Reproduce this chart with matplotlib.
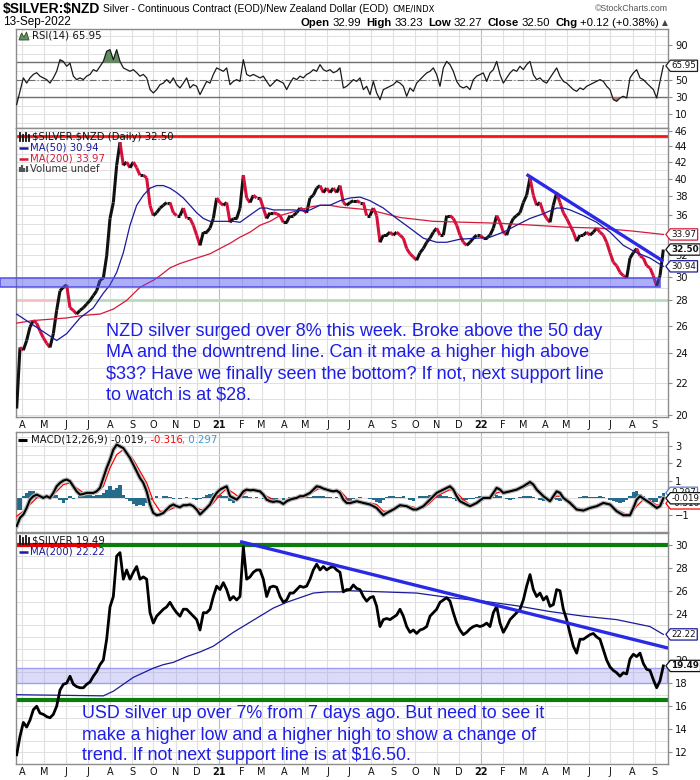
import numpy as np
import pandas as pd
import matplotlib
matplotlib.use('Agg')
import matplotlib.pyplot as plt
import matplotlib.dates as mdates
from matplotlib.collections import LineCollection
from matplotlib.path import Path
from matplotlib.patches import Rectangle, Polygon
from matplotlib.lines import Line2D
from matplotlib.ticker import NullLocator, FixedLocator
from matplotlib.transforms import blended_transform_factory as btf
from matplotlib import patheffects

# ---------------- DATA ----------------
START, END = '2020-03-24', '2022-09-13'   # first / last bar
K0 = 5                                     # index of first bar on the grid

nzd_close = [
    20.4, 24.4, 24.2, 24.9, 25.9, 26.4, 26.2, 25.6, 25.1, 24.7,
    24.4, 25.4, 27.2, 28.8, 29.1, 29.3, 27.4, 27.2, 26.9, 27.2,
    27.4, 27.7, 28.0, 28.4, 28.8, 29.7, 29.9, 31.9, 35.6, 37.3,
    41.6, 44.5, 41.6, 42.0, 41.3, 42.0, 41.3, 40.4, 40.4, 40.1,
    37.0, 35.9, 36.2, 36.7, 37.0, 37.3, 37.3, 36.2, 35.9, 35.9,
    36.7, 35.6, 35.6, 34.9, 33.9, 32.9, 34.2, 34.2, 34.6, 35.6,
    37.8, 37.3, 37.0, 37.3, 35.2, 35.6, 35.6, 36.7, 40.4, 37.8,
    37.3, 38.1, 37.8, 37.8, 36.7, 35.6, 36.2, 36.2, 36.1, 35.9,
    35.2, 35.2, 35.9, 35.9, 36.2, 36.7, 36.5, 36.2, 37.8, 38.1,
    38.9, 39.2, 38.4, 38.9, 38.4, 38.9, 38.4, 39.2, 37.3, 37.0,
    37.3, 37.5, 37.5, 37.3, 37.3, 35.9, 35.9, 36.7, 35.9, 33.2,
    33.9, 33.9, 34.2, 33.9, 34.2, 33.9, 33.6, 32.6, 32.1, 31.8,
    31.5, 32.2, 32.6, 33.2, 33.6, 34.2, 34.6, 33.9, 33.9, 35.9,
    35.9, 35.6, 34.9, 33.9, 33.2, 32.9, 33.2, 33.6, 33.9, 33.9,
    33.6, 33.6, 33.9, 34.6, 35.9, 35.2, 34.2, 33.9, 34.9, 35.6,
    35.9, 36.2, 37.3, 38.1, 40.1, 38.1, 37.0, 37.3, 36.2, 35.6,
    35.2, 37.0, 38.4, 37.3, 36.2, 35.6, 34.9, 34.2, 33.3, 33.9,
    33.9, 34.2, 33.9, 34.2, 34.6, 34.2, 33.9, 33.2, 32.2, 31.3,
    31.0, 30.4, 30.1, 29.9, 31.7, 32.2, 32.6, 31.9, 31.7, 31.0,
    30.8, 30.1, 29.2, 30.1, 32.5]

usd_close = [
    11.8, 13.4, 14.6, 14.2, 14.8, 15.7, 16.0, 15.4, 15.3, 15.1,
    15.0, 15.3, 16.0, 17.4, 17.9, 18.0, 18.6, 17.9, 17.7, 17.6,
    17.6, 17.9, 18.1, 18.6, 19.0, 19.6, 20.0, 21.8, 24.6, 25.5,
    29.0, 29.3, 27.0, 27.8, 27.0, 27.6, 28.1, 27.0, 27.2, 27.0,
    24.1, 23.2, 23.8, 24.1, 24.4, 24.6, 25.0, 24.5, 24.1, 23.8,
    24.4, 24.4, 24.1, 23.8, 23.5, 22.6, 24.1, 24.1, 24.4, 25.5,
    26.4, 26.1, 26.7, 26.1, 25.2, 25.5, 25.2, 25.5, 29.8, 27.0,
    27.2, 27.6, 27.8, 27.8, 27.0, 25.5, 26.3, 26.4, 26.3, 25.5,
    25.0, 25.2, 25.8, 25.8, 26.1, 26.4, 26.3, 26.4, 27.0, 27.8,
    28.3, 27.8, 28.1, 27.8, 28.0, 28.1, 27.8, 27.6, 25.9, 26.1,
    26.1, 26.5, 26.2, 26.1, 25.5, 25.1, 25.4, 25.5, 24.65, 22.9,
    23.5, 23.6, 23.5, 23.7, 23.9, 24.4, 23.8, 22.9, 22.4, 22.6,
    22.3, 22.6, 22.7, 22.9, 23.8, 24.1, 24.4, 25.0, 25.2, 25.4,
    25.1, 24.1, 23.2, 22.6, 22.2, 22.4, 22.7, 22.9, 23.0, 22.9,
    23.0, 23.2, 22.9, 24.1, 24.65, 23.2, 22.4, 22.9, 23.5, 23.8,
    24.1, 24.4, 25.2, 26.4, 27.4, 26.1, 25.5, 25.8, 25.2, 25.5,
    24.65, 24.8, 26.1, 26.0, 24.4, 23.5, 22.3, 21.2, 20.6, 21.8,
    21.8, 22.0, 22.2, 22.3, 22.0, 21.8, 20.9, 20.0, 19.4, 19.1,
    18.9, 18.6, 18.9, 18.8, 20.1, 20.5, 20.3, 20.6, 19.7, 19.2,
    19.1, 18.3, 17.6, 18.2, 19.49]

ma50_k = [5, 17, 20, 24, 28, 31, 33, 35, 37, 39, 41, 43, 45, 47, 49, 51, 53, 55, 57, 59,
          61, 63, 66, 70, 72, 74, 76, 78, 80, 82, 85, 88, 91, 93, 96, 99, 102, 105, 108, 111,
          115, 119, 123, 127, 131, 134, 138, 143, 147, 151, 155, 159, 163, 167, 169, 171, 175, 179, 183, 187,
          191, 195, 199]
ma50_v = [26.9, 24.9, 25.4, 26.6, 27.4, 28.6, 29.3, 30.4, 32.2, 34.9, 37.0, 38.1, 38.9, 39.2, 39.2, 38.9, 38.4, 37.8, 37.0, 36.2,
          35.6, 35.3, 35.3, 35.3, 35.2, 35.7, 36.2, 36.7, 36.7, 36.5, 36.5, 36.5, 36.4, 36.5, 37.0, 37.0, 37.5, 37.8, 37.9, 37.5,
          36.7, 35.6, 34.6, 33.6, 33.2, 33.2, 33.5, 33.6, 33.7, 34.2, 34.9, 35.6, 36.1, 36.7, 36.7, 36.5, 35.9, 35.2, 34.2, 32.9,
          32.2, 31.7, 30.94]

ma200_k = [5, 10, 15, 20, 25, 30, 34, 38, 42, 46, 48, 51, 54, 57, 60, 63, 66, 69, 72, 75,
           78, 81, 84, 87, 90, 93, 96, 99, 102, 105, 111, 120, 130, 140, 150, 160, 170, 180, 190, 199]
ma200_v = [26.2, 26.4, 26.5, 26.6, 26.8, 26.9, 27.3, 28.0, 29.1, 29.7, 30.1, 30.8, 31.2, 31.5, 31.8, 32.1, 32.6, 33.1, 33.7, 34.2,
           34.9, 35.3, 35.9, 36.2, 36.5, 36.8, 37.0, 37.0, 36.8, 36.7, 36.5, 35.7, 35.3, 35.2, 35.1, 34.9, 34.7, 34.6, 34.3, 33.97]

usd_ma200_k = [5, 31, 34, 37, 40, 43, 46, 49, 52, 56, 60, 64, 66, 70, 74, 78, 82, 86, 90, 94,
               98, 102, 105, 115, 125, 135, 145, 155, 165, 175, 185, 195, 199]
usd_ma200_v = [17.0, 16.9, 17.3, 17.9, 18.5, 18.9, 19.3, 19.6, 19.8, 20.3, 20.7, 21.2, 21.6, 22.4, 23.1, 23.8, 24.5, 25.0, 25.4, 25.8,
               25.9, 25.9, 26.0, 25.9, 25.8, 25.4, 25.1, 24.7, 24.2, 23.8, 23.5, 22.9, 22.22]

rsi = [
    21.2, 36.5, 52, 46, 52, 56, 58, 54, 52, 50,
    46, 52, 59.6, 73, 71, 65.4, 69, 54, 50, 52,
    50, 54, 56, 61.5, 59.6, 65.4, 71, 82.7, 84.6, 73,
    84.6, 71, 63.5, 61.5, 59.6, 61.5, 58, 54, 56, 52,
    38.5, 34.6, 38.5, 44.2, 46, 50, 46, 52, 44.2, 40.4,
    46, 52, 40.4, 44.2, 42.3, 32.7, 40.4, 48, 46, 56,
    63.5, 61.5, 59.6, 63.5, 44.2, 48, 50, 48, 73, 56,
    54, 56, 54, 52, 54, 48, 42.3, 46, 50, 48,
    46, 38.5, 46, 52, 50, 54, 52, 56, 58, 61.5,
    59.6, 67.3, 61.5, 59.6, 61.5, 58, 59.6, 63.5, 40.4, 42.3,
    46,
    50, 48, 52, 38.5, 42.3, 32.7, 48, 34.6, 26.9, 38.5,
    40.4, 42.3, 44.2, 48, 46, 42.3, 30.8, 40.4, 36.5, 46,
    50, 54, 57.7, 59.6, 63.5, 55.8, 42.3, 63.5, 71, 67.3,
    59.6, 48, 42.3, 40.4, 42.3, 38.5, 50, 54, 55.8, 57.7,
    48, 57.7, 61.5, 71, 55.8, 46, 52, 57.7, 61.5, 59.6,
    65.4, 61.5, 67.3, 71, 55.8, 50, 52, 48, 46, 52,
    57.7, 63.5, 54, 48, 46, 42.3, 38.5, 36.5, 40.4, 38.5,
    42.3, 44.2, 46, 48, 50, 48, 42.3, 38.5, 26.9, 25,
    28.8, 30.8, 28.8, 52, 57.7, 61.5, 52, 50, 46, 42.3,
    38.5, 28.8, 48, 65.95]

macd_left = [
    -1.63, -1.15, -0.96, -0.58, -0.1, 0.1, 0.19, 0.1, 0, 0.1,
    0, 0.29, 0.67, 0.87, 1.0, 1.06, 0.96, 0.67, 0.38, 0.19,
    0.23, 0.29, 0.29, 0.29, 0.38, 0.58, 1.15, 1.73, 2.21, 2.79,
    3.08, 2.98, 2.88, 2.6, 2.31, 1.92, 1.54, 1.15, 0.87, 0.38,
    -0.38, -0.87, -1.0, -0.96, -0.87, -0.67, -0.48, -0.38, -0.48, -0.54,
    -0.42, -0.42, -0.38, -0.48, -0.67, -0.96, -0.77, -0.58, -0.38, 0,
    0.29, 0.48, 0.58, 0.67, 0.1, 0, -0.1, 0.1, 0.38, 0.48,
    0.44, 0.46, 0.42, 0.38, 0.19, -0.1, -0.19, -0.23, -0.19, -0.23,
    -0.35, -0.19, -0.1, -0.04, 0, 0.1, 0.1, 0.19, 0.29, 0.48,
    0.67, 0.63, 0.54, 0.48, 0.42, 0.38, 0.42, 0.29, -0.1, -0.29,
    -0.3]
macd_right_k = [107, 109, 111, 113, 115, 116, 118, 120, 122, 124, 125, 127, 129, 131, 133, 135, 136, 137, 138, 139,
                141, 143, 145, 147, 149, 150, 151, 153, 155, 157, 159, 160, 161, 163, 165, 167, 168, 169, 171, 173,
                175, 177, 179, 181, 183, 185, 187, 189, 190, 191, 192, 193, 195, 197, 198, 199]
macd_right_v = [-0.19, -0.29, -0.38, -0.58, -1.0, -0.87, -0.67, -0.42, -0.48, -0.67, -0.67, -0.48, -0.1, 0.29, 0.48, 0.67, 0.48, 0.1, -0.19, -0.29,
                -0.48, -0.29, 0, 0, 0.58, 0.48, 0.29, 0.38, 0.48, 0.67, 0.92, 0.77, 0.48, 0.1, -0.19, 0.38, 0.29, 0, -0.29, -0.67,
                -0.73, -0.58, -0.48, -0.29, -0.38, -0.77, -1.0, -1.0, -0.58, -0.1, 0.1, -0.04, -0.29, -0.58, -0.48, -0.019]

signal_k = [5, 7, 9, 11, 13, 15, 17, 19, 21, 23, 25, 27, 29, 31, 33, 35, 37, 38, 40, 42,
            44, 46, 48, 50, 52, 54, 56, 58, 60, 62, 64, 66, 68, 70, 72, 74, 76, 78, 80, 82,
            84, 86, 88, 90, 92, 94, 96, 98, 100, 102, 104, 105, 107, 109, 111, 113, 115, 117, 119, 121,
            123, 125, 127, 129, 131, 133, 135, 137, 139, 141, 143, 145, 147, 149, 151, 153, 155, 157, 159, 161,
            163, 165, 167, 169, 171, 173, 175, 177, 179, 181, 183, 185, 187, 189, 191, 193, 195, 197, 199]
signal_v = [-1.06, -0.77, -0.38, 0, 0.1, 0, 0.38, 0.77, 0.87, 0.58, 0.29, 0.19, 0.29, 0.67, 1.73, 2.5, 2.79, 2.69, 2.21, 1.54,
            0.87, -0.19, -0.77, -0.77, -0.58, -0.48, -0.48, -0.48, -0.67, -0.67, -0.29, 0.19, 0.54, 0.29, 0, 0.38, 0.42, 0.42, 0.1, -0.1,
            -0.19, -0.23, -0.1, 0, 0.1, 0.35, 0.58, 0.54, 0.44, 0.42, 0, -0.19, -0.23, -0.23, -0.29, -0.38, -0.77, -0.77, -0.58, -0.48,
            -0.48, -0.58, -0.58, -0.29, 0.1, 0.29, 0.48, 0.29, -0.1, -0.38, -0.35, -0.1, -0.04, 0.29, 0.38, 0.35, 0.42, 0.58, 0.77, 0.58,
            0.19, -0.1, 0.1, 0.1, -0.19, -0.58, -0.67, -0.62, -0.48, -0.38, -0.38, -0.67, -0.87, -1.0, -0.48, -0.1, -0.15, -0.42, -0.316]

macd_hist = [
    -0.67, -0.67,
    0.1, 0.29, 0.38, 0.38, 0.29, 0.19, 0.1, 0, 0.1, 0.19,
    0.19, -0.1, -0.29, -0.1, 0.1, -0.04, 0, 0.1, 0.13, 0.19,
    0.19, 0.1, 0.19, 0.19, 0.29, 0.48, 0.67, 0.48, 0.58, 0.73,
    0.19, -0.04, -0.19, -0.38, -0.48, -0.42, -0.48, -0.29, -0.1, 0,
    0.1, 0, 0.1, 0.1, 0.06, -0.04, 0, -0.04, 0, 0.04,
    0, -0.04, -0.1, -0.04, 0.04, 0.19, 0.23, 0.29, 0.29, 0.19,
    0.1, 0.1, -0.19, -0.29, -0.1, 0, 0.1, 0.1, 0.04, 0,
    0.04, 0, -0.04, -0.19, -0.23, -0.1, -0.04, 0, -0.1, 0,
    0.04, 0.04, 0.04, 0.04, 0.1, 0.1, 0.04, 0.1, 0.13, 0.1,
    0.1, 0.04, 0.04, 0, 0.04, 0, -0.19, -0.29, -0.29,
    -0.04, 0, 0.04, 0, 0, -0.04, -0.1, -0.23, -0.29, -0.1,
    0.04, 0.1, 0.1, 0.04, 0.04, 0.1, 0, -0.1, -0.15, 0,
    0.1, 0.1, 0.13, 0.19, 0.23, 0.19, 0.19, 0.13, 0.1, 0.04,
    -0.04, -0.15, -0.19, -0.19, -0.1, -0.04, -0.04, 0.04, 0.1, 0.06,
    0, 0.04, 0.06, 0.19, 0.1, 0, -0.04, -0.1, -0.04, 0,
    0.04, 0.1, 0.1, 0.1, 0.04, 0, -0.1, -0.15, -0.1, -0.04,
    -0.04, -0.1, -0.15, -0.1, -0.04, 0, 0, 0, 0.04, 0.1,
    0.1, 0.04, 0.04, 0.08, 0.1, 0.06, 0, -0.1, -0.15, -0.23,
    -0.29, -0.23, -0.1, 0.1, 0.35, 0.38, 0.23, 0.1, 0, -0.1,
    -0.23, -0.23, 0.1, 0.297]

nzd_trend_dates = ['2022-03-06', '2022-09-13']
nzd_trend_vals = [40.5, 31.4]
usd_trend_dates = ['2021-01-30', '2022-09-22']
usd_trend_vals = [30.26, 21.0]
nzd_resistance = 45.3
nzd_band = (29.1, 29.9)
nzd_support = 28.0
usd_resistance = 30.0
usd_band = (18.0, 19.3)
usd_support = 16.5

month_letters = ['J', 'F', 'M', 'A', 'M', 'J', 'J', 'A', 'S', 'O', 'N', 'D']

# right-axis labels (those fully hidden behind value tags in the reference are left out)
rsi_ticks = [10, 30, 50, 90]
nzd_ticks = [20, 22, 24, 26, 28, 30, 32, 36, 38, 40, 42, 44, 46]
macd_ticks = [-1, 1, 2, 3]
usd_ticks = [12, 14, 16, 18, 20, 24, 26, 28, 30]

nzd_note = ["NZD silver surged over 8% this week. Broke above the 50 day",
            "MA and the downtrend line. Can it make a higher high above",
            "$33? Have we finally seen the bottom? If not, next support line",
            "to watch is at $28."]
usd_note = ["USD silver up over 7% from 7 days ago. But need to see it",
            "make a higher low and a higher high to show a change of",
            "trend. If not next support line is at $16.50."]

# ---------------- FIGURE ----------------
N = len(nzd_close)
assert len(usd_close) == N and len(rsi) == N and len(macd_hist) == N and len(macd_left) == 101
assert len(ma50_k) == len(ma50_v) and len(ma200_k) == len(ma200_v)
assert len(usd_ma200_k) == len(usd_ma200_v) and len(signal_k) == len(signal_v)
assert len(macd_right_k) == len(macd_right_v)

SANS = 'DejaVu Sans'
ARIAL = 'Liberation Sans'

W, H = 700, 780
fig = plt.figure(figsize=(W / 100, H / 100), dpi=100)
fig.patch.set_facecolor('white')
L, R = 16, 668


def add_ax(top, bottom):
    return fig.add_axes([L / W, 1 - bottom / H, (R - L) / W, (bottom - top) / H])


ax_r = add_ax(29, 128)
ax_p = add_ax(128, 417)
ax_m = add_ax(432, 532)
ax_s = add_ax(533, 764)

dates = pd.date_range(START, END, periods=N)
xn = mdates.date2num(dates)
step = xn[1] - xn[0]


def kx(ks):
    return np.array([xn[k - K0] for k in ks])


months = pd.date_range('2020-04-01', '2022-09-01', freq='MS')
mx = mdates.date2num(months)
mlabels = [(str(m.year)[2:] if m.month == 1 else month_letters[m.month - 1]) for m in months]

GRID = '#e0e0e0'
for ax in (ax_r, ax_p, ax_m, ax_s):
    ax.set_xlim(xn[0] - 0.2 * step, xn[-1] + 1.4 * step)
    ax.set_facecolor('white')
    for m, v in zip(months, mx):
        ax.axvline(v, color='#bcbcbc' if m.month == 1 else GRID, lw=0.8, zorder=0)
    for sp in ax.spines.values():
        sp.set_color('#8c8c8c')
        sp.set_linewidth(1.0)
    ax.yaxis.tick_right()
    ax.tick_params(axis='y', length=3, width=0.8, color='#8c8c8c', pad=2, labelsize=7.2,
                   labelcolor='#111111')
    ax.set_xticks(mx)
    ax.tick_params(axis='x', length=0, pad=2.5, labelsize=7, labelcolor='#111111')
    ax.yaxis.set_minor_locator(NullLocator())

for ax in (ax_r, ax_m):
    ax.tick_params(axis='x', labelbottom=False)
for ax in (ax_p, ax_s):
    ax.set_xticklabels(mlabels, family=SANS)
    for t in ax.get_xticklabels():
        if t.get_text() in ('21', '22'):
            t.set_fontweight('bold')


def tag_box(x0, y0, width, height, mutation_size):
    pad = 0.13 * mutation_size
    x0 -= pad; y0 -= pad; width += 2 * pad; height += 2 * pad
    tip = height * 0.4
    verts = [(x0, y0), (x0 + width, y0), (x0 + width, y0 + height), (x0, y0 + height),
             (x0 - tip, y0 + height / 2), (x0, y0), (x0, y0)]
    codes = [Path.MOVETO] + [Path.LINETO] * 5 + [Path.CLOSEPOLY]
    return Path(verts, codes)


def tag(ax, val, txt, ec, bold=False, z=10):
    ax.annotate(txt, xy=(1, val), xycoords=('axes fraction', 'data'),
                xytext=(3.5 * 0.72, 0), textcoords='offset points', ha='left', va='center',
                fontsize=6.3, family=SANS, fontweight='bold' if bold else 'normal', color='#111111',
                bbox=dict(boxstyle=tag_box, fc='white', ec=ec, lw=0.9), zorder=z,
                annotation_clip=False)


def fx(x):
    return x / W


def fy(y):
    return 1 - y / H


def ftext(x, y, s, **kw):
    kw.setdefault('va', 'center')
    return fig.text(fx(x), fy(y), s, parse_math=False, **kw)


def fline(x1, x2, y, color, lw):
    fig.add_artist(Line2D([fx(x1), fx(x2)], [fy(y), fy(y)], transform=fig.transFigure,
                          color=color, lw=lw, solid_capstyle='butt'))


# ---------------- RSI ----------------
rs = np.array(rsi)
ax_r.set_ylim(-5.8, 108.4)
ax_r.set_yticks(rsi_ticks)
for v in range(0, 101, 10):
    ax_r.axhline(v, color=GRID, lw=0.7, zorder=0)
ax_r.axhline(70, color='#6e6e6e', lw=1.0, zorder=1)
ax_r.axhline(30, color='#6e6e6e', lw=1.0, zorder=1)
ax_r.axhline(50, color='#6e6e6e', lw=0.8, dashes=(6, 2, 1, 2), zorder=1)
ax_r.fill_between(xn, rs, 70, where=rs >= 70, interpolate=True, color='#5f8f5f', lw=0, zorder=2)
ax_r.fill_between(xn, rs, 30, where=rs <= 30, interpolate=True, color='#b87272', lw=0, zorder=2)
ax_r.plot(xn, rs, color='#1a1a1a', lw=0.9, zorder=3)
tag(ax_r, rs[-1], '65.95', '#222222')

# ---------------- NZD PRICE ----------------
ax_p.set_yscale('log')
ax_p.set_ylim(19.9, 46.4)
ax_p.yaxis.set_major_locator(FixedLocator(nzd_ticks))
ax_p.yaxis.set_minor_locator(NullLocator())
ax_p.set_yticklabels([str(v) for v in nzd_ticks])
for v in range(20, 47):
    ax_p.axhline(v, color=GRID, lw=0.7, zorder=0)

tp = btf(ax_p.transAxes, ax_p.transData)
ax_p.plot([(58 - L) / (R - L), 1], [nzd_support] * 2, transform=tp, color='#b9dbb9', lw=2, zorder=1,
          solid_capstyle='butt')
ax_p.plot([0, (58 - L) / (R - L)], [nzd_support] * 2, transform=tp, color='#f4c0c0', lw=2, zorder=1,
          solid_capstyle='butt')
ax_p.plot([0, 1], [nzd_resistance] * 2, transform=tp, color='#ff1010', lw=2, zorder=2,
          solid_capstyle='butt')

nz = np.array(nzd_close)
pts = np.column_stack([xn, nz])
segs = np.stack([pts[:-1], pts[1:]], axis=1)
cols = ['#111111' if nz[i + 1] >= nz[i] else '#d4103c' for i in range(N - 1)]
ax_p.add_collection(LineCollection(segs, colors=cols, linewidths=2.2, zorder=3))

ax_p.plot(kx(ma200_k), ma200_v, color='#d41a3a', lw=0.9, zorder=4)
ax_p.plot(kx(ma50_k), ma50_v, color='#1a1a9a', lw=0.9, zorder=4)

band_x1 = (xn[-2] - ax_p.get_xlim()[0]) / (ax_p.get_xlim()[1] - ax_p.get_xlim()[0])
ax_p.add_patch(Rectangle((-L / (R - L), nzd_band[0]), band_x1 + L / (R - L), nzd_band[1] - nzd_band[0],
                         transform=tp, fc=(0.3, 0.3, 0.92, 0.45), ec=(0.3, 0.3, 0.92, 0.9), lw=1.2,
                         zorder=5, clip_on=False))
ax_p.plot(mdates.date2num(pd.to_datetime(nzd_trend_dates)), nzd_trend_vals, color='#2a2ae6', lw=2.4,
          zorder=6, solid_capstyle='butt')

tag(ax_p, ma200_v[-1], '33.97', '#d41a3a')
tag(ax_p, ma50_v[-1], '30.94', '#1a1a9a')
tag(ax_p, nz[-1], '32.50', '#111111', bold=True, z=11)

for i, line in enumerate(nzd_note):
    ftext(106, [336, 357.5, 378.5, 399.5][i], line, va='baseline', fontsize=13, family=ARIAL,
          color='#1e1ee6')

# ---------------- MACD ----------------
ax_m.set_ylim(-1.97, 3.81)
ax_m.set_yticks(macd_ticks)
for v in np.arange(-1.5, 3.6, 0.5):
    ax_m.axhline(v, color=GRID, lw=0.7, zorder=0)
ax_m.bar(xn, macd_hist, width=step, color='#256c8c', lw=0, zorder=2)
macd_k = list(range(5, 106)) + macd_right_k
macd_v = macd_left + macd_right_v
ax_m.plot(kx(signal_k), signal_v, color='#ff0000', lw=0.9, zorder=3)
ax_m.plot(kx(macd_k), macd_v, color='#000000', lw=1.5, zorder=4,
          path_effects=[patheffects.Stroke(linewidth=3.2, foreground='#b4b4b4'), patheffects.Normal()])
tag(ax_m, macd_hist[-1], '0.297', '#5b7fd0', z=10)
tag(ax_m, signal_v[-1], '-0.316', '#ff0000', z=11)
tag(ax_m, macd_v[-1], '-0.019', '#111111', z=12)

# ---------------- USD SILVER ----------------
ax_s.set_ylim(11.0, 31.0)
ax_s.set_yticks(usd_ticks)
for v in range(11, 32):
    ax_s.axhline(v, color=GRID, lw=0.7, zorder=0)
ts = btf(ax_s.transAxes, ax_s.transData)
ax_s.add_patch(Rectangle((0, usd_band[0]), (R - 1 - L) / (R - L), usd_band[1] - usd_band[0], transform=ts,
                         fc=(0.6, 0.6, 0.94, 0.35), ec=(0.62, 0.62, 0.95, 1), lw=1, zorder=1))
ax_s.plot([0, 1], [usd_support] * 2, transform=ts, color='#0a7d0a', lw=3, zorder=2, solid_capstyle='butt')
ax_s.plot([(100 - L) / (R - L), 1], [usd_resistance] * 2, transform=ts, color='#0a7d0a', lw=3, zorder=2,
          solid_capstyle='butt')
ax_s.plot([0, (100 - L) / (R - L)], [usd_resistance] * 2, transform=ts, color='#e00000', lw=3, zorder=2,
          solid_capstyle='butt')
ax_s.plot(kx(usd_ma200_k), usd_ma200_v, color='#1a1a9a', lw=0.9, zorder=3)
ax_s.plot(xn, usd_close, color='#000000', lw=2.0, zorder=4)
ax_s.plot(mdates.date2num(pd.to_datetime(usd_trend_dates)), usd_trend_vals, color='#2a2ae6', lw=2.4,
          zorder=5, solid_capstyle='butt')
tag(ax_s, usd_ma200_v[-1], '22.22', '#1a1a9a')
tag(ax_s, usd_close[-1], '19.49', '#111111', bold=True, z=11)

for i, line in enumerate(usd_note):
    ftext(81.5, [718.5, 739.5, 760][i], line, va='baseline', fontsize=12.9, family=ARIAL,
          color='#1e1ee6')

# ---------------- HEADER ----------------
renderer = fig.canvas.get_renderer()


def seq(pieces, x, y, ha='left'):
    objs = [ftext(0, y, t, **kw) for t, kw, g in pieces]
    ws = [o.get_window_extent(renderer).width for o in objs]
    gaps = [g for t, kw, g in pieces]
    total = sum(ws) + sum(gaps[:-1])
    cx = x if ha == 'left' else x - total
    for o, w, g in zip(objs, ws, gaps):
        o.set_x(fx(cx))
        cx += w + g


seq([('$SILVER:$NZD', dict(fontsize=10, family=ARIAL, fontweight='bold'), 3),
     ('Silver - Continuous Contract (EOD)/New Zealand Dollar (EOD)', dict(fontsize=7.4, family=ARIAL), 4),
     ('CME/INDX', dict(fontsize=6, family=SANS), 0)], 3, 9)
ftext(668, 8.5, '\u00a9StockCharts.com', ha='right', fontsize=6.3, family=ARIAL, color='#555555')
ftext(3, 22.5, '13-Sep-2022', fontsize=8.5, family=ARIAL)
B = dict(fontsize=8.2, family=ARIAL, fontweight='bold')
Rg = dict(fontsize=8.2, family=ARIAL)
seq([('Open', B, 3), ('32.99', Rg, 5), ('High', B, 3), ('33.23', Rg, 5), ('Low', B, 3), ('32.27', Rg, 5),
     ('Close', B, 3), ('32.50', Rg, 5), ('Chg', B, 3), ('+0.12 (+0.38%)', Rg, 3),
     ('\u25b2', dict(fontsize=5.5, family=SANS, color='#444444'), 0)], 668, 22.5, ha='right')

# ---------------- PANEL LEGENDS ----------------
LG = dict(fontsize=7.3, family=SANS)
fig.add_artist(Polygon([(fx(19), fy(40)), (fx(21.5), fy(33)), (fx(24), fy(37)), (fx(26.5), fy(32)),
                        (fx(29), fy(40))], closed=True, transform=fig.transFigure, fc='#5f8f5f',
                       ec='#2d4d2d', lw=0.6))
ftext(32, 36, 'RSI(14) 65.95', color='#111111', **LG)


def bars_icon(x0, yc, colors):
    for i, c in enumerate(colors):
        xx = x0 + i * 3
        fig.add_artist(Line2D([fx(xx), fx(xx)], [fy(yc + 4), fy(yc - 4 + (i % 2) * 2)],
                              transform=fig.transFigure, color=c, lw=1.3))


bars_icon(20, 137, ['#111111', '#111111', '#111111', '#111111'])
ftext(32, 137.5, '$SILVER:$NZD (Daily) 32.50', color='#111111', **LG)
fline(19, 28, 148, '#1a1a9a', 1.8)
ftext(30, 148, 'MA(50) 30.94', color='#1a1a9a', **LG)
fline(19, 28, 158.5, '#d41a3a', 1.8)
ftext(30, 158.5, 'MA(200) 33.97', color='#d41a3a', **LG)
for i, hgt in enumerate([5, 7, 4, 6]):
    xx = 20 + i * 2.2
    fig.add_artist(Line2D([fx(xx), fx(xx)], [fy(172), fy(172 - hgt)], transform=fig.transFigure,
                          color='#555555', lw=1.6, solid_capstyle='butt'))
ftext(30, 169, 'Volume undef', color='#333333', **LG)

fline(18, 27, 440, '#000000', 2.2)
seq([('MACD(12,26,9) -0.019', dict(color='#111111', **LG), 0),
     (', -0.316', dict(color='#ff0000', **LG), 0),
     (', 0.297', dict(color='#3a9ad0', **LG), 0)], 31, 440)

bars_icon(20, 540, ['#111111', '#111111', '#111111', '#111111'])
ftext(32, 540.5, '$SILVER 19.49', color='#111111', **LG)
fline(19, 28, 551.5, '#1a1a9a', 1.8)
ftext(30, 551.5, 'MA(200) 22.22', color='#1a1a9a', **LG)

fig.savefig('out.png', dpi=100)
